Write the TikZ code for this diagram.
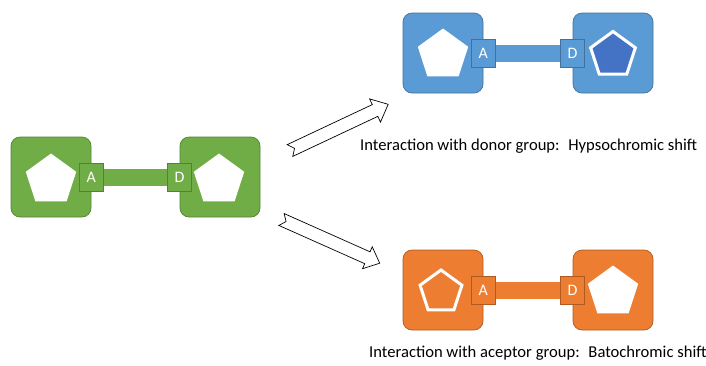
\documentclass[tikz,border=0pt]{standalone}
\usepackage{fontspec}
\setmainfont{Carlito}
\usepackage{tikz}
\usetikzlibrary{calc}
\usetikzlibrary{shapes.geometric}

\definecolor{grn}{HTML}{70AD47}
\definecolor{grnline}{HTML}{548235}
\definecolor{blu}{HTML}{5B9BD5}
\definecolor{bluline}{HTML}{41719C}
\definecolor{dkblu}{HTML}{4472C4}
\definecolor{org}{HTML}{ED7D31}
\definecolor{orgline}{HTML}{AE5A21}

\begin{document}
\begin{tikzpicture}[x=1pt,y=-1pt,
    molbox/.style={rectangle,rounded corners=9pt,minimum width=80pt,minimum height=80pt,fill=#1,draw=#1line,line width=0.7pt},
    site/.style={rectangle,minimum width=24pt,minimum height=28pt,inner sep=0pt,fill=#1,draw=#1line,line width=0.6pt,text=white,font=\fontsize{16}{18}\selectfont},
    ring/.style={regular polygon,regular polygon sides=5,minimum size=53pt,inner sep=0pt,fill=white},
    hitring/.style={regular polygon,regular polygon sides=5,inner sep=0pt,draw=white,line width=3pt,fill=#1},
    bigarrow/.style={draw=black,fill=white,line width=0.7pt,line join=miter},
    caption/.style={anchor=base west,inner sep=0pt,font=\fontsize{16.6}{19}\selectfont}]
    \useasboundingbox (0,0) rectangle (706,365);
    % free molecule
    \node[molbox=grn] (gl) at (51,177) {};
    \node[molbox=grn] (gr) at (220,177) {};
    \fill[grn] ($(gl.east)+(0,-8.5)$) rectangle ($(gr.west)+(0,8.5)$);
    \node[site=grn] (ga) at (gl.east) {A};
    \node[site=grn] (gd) at (gr.west) {D};
    \node[ring] (gp1) at ([yshift=-3pt]gl.center) {};
    \node[ring] (gp2) at ([yshift=-3pt,xshift=-1pt]gr.center) {};
    % donor side
    \node[molbox=blu] (bl) at (443,53) {};
    \node[molbox=blu] (br) at (613,53) {};
    \fill[blu] ($(bl.east)+(0,-8.5)$) rectangle ($(br.west)+(0,8.5)$);
    \node[site=blu] (ba) at (bl.east) {A};
    \node[site=blu] (bd) at (br.west) {D};
    \node[ring] (bp1) at ([yshift=-2pt]bl.center) {};
    \node[hitring=dkblu,minimum size=47pt] (bp2) at ([yshift=-2pt]br.center) {};
    % acceptor side
    \node[molbox=org] (ol) at (443,290) {};
    \node[molbox=org] (or) at (613,290) {};
    \fill[org] ($(ol.east)+(0,-8.5)$) rectangle ($(or.west)+(0,8.5)$);
    \node[site=org] (oa) at (ol.east) {A};
    \node[site=org] (od) at (or.west) {D};
    \node[hitring=org,minimum size=44pt] (op1) at ([yshift=-2pt,xshift=-2pt]ol.center) {};
    \node[ring] (op2) at ([yshift=-2pt]or.center) {};
    % block arrows
    \coordinate (up) at (290,150.5);
    \coordinate (dn) at (281.5,219.5);
    \draw[bigarrow,shift={(up)},rotate=25.2] (0,-6.5) -- (94,-6.5) -- (94,-12.8) -- (108.5,0) -- (94,12.8) -- (94,6.5) -- (0,6.5) -- (5,0) -- cycle;
    \draw[bigarrow,shift={(dn)},rotate=-24] (0,-6.5) -- (94,-6.5) -- (94,-12) -- (107.5,0) -- (94,12) -- (94,6.5) -- (0,6.5) -- (5,0) -- cycle;
    \node[caption] (t1) at (360,150.7) {Interaction with donor group:~ Hypsochromic shift};
    \node[caption] (t2) at (369,357.5) {Interaction with aceptor group:~ Batochromic shift};
\end{tikzpicture}
\end{document}
